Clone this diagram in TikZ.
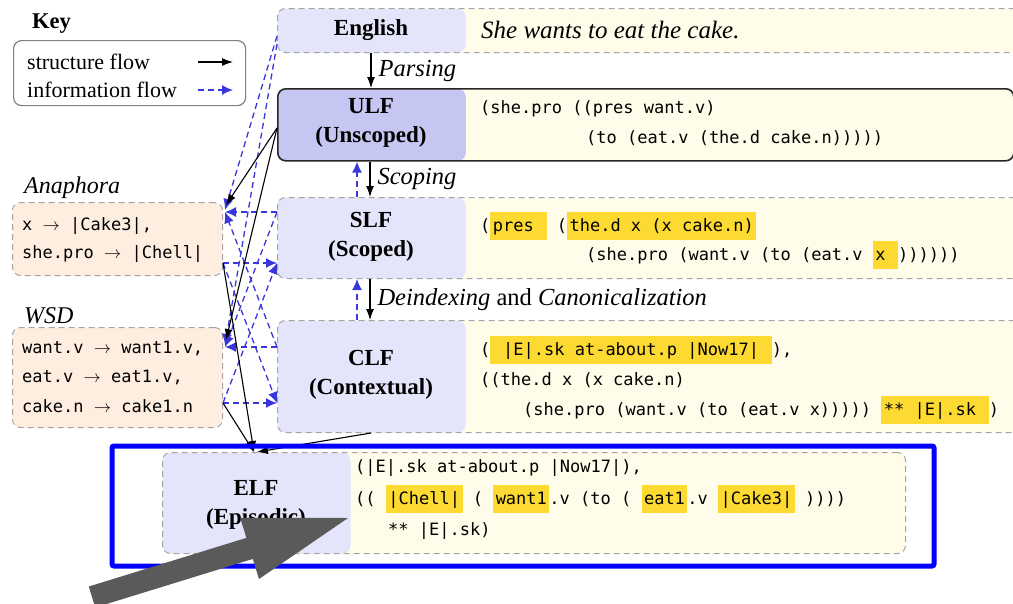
\documentclass[tikz,border=0pt]{standalone}
\usepackage{fontspec}
\setmainfont{Liberation Serif}
\newfontfamily\codefont{DejaVu Sans Mono}
\usetikzlibrary{arrows.meta}
\definecolor{lav}{RGB}{228,228,250}
\definecolor{lavdark}{RGB}{198,198,242}
\definecolor{cream}{RGB}{255,252,234}
\definecolor{peach}{RGB}{253,238,224}
\definecolor{hly}{RGB}{253,218,50}
\definecolor{bordergray}{RGB}{165,165,165}
\definecolor{infoblue}{RGB}{55,55,220}
\definecolor{bigarrowgray}{RGB}{90,90,90}
\newcommand\hlt[1]{{\setlength\fboxsep{0pt}\colorbox{hly}{\rule[-9pt]{0pt}{28pt}\kern2.5pt#1\kern2.5pt}}}
\newcommand\mapsarrow{\ensuremath{\rightarrow}}
\tikzset{
  stagebox/.style={draw=bordergray, dash pattern=on 6pt off 4pt, rounded corners=8pt, fill=cream, line width=1pt, anchor=north west, inner sep=0pt},
  labfill/.style={path picture={\fill[#1] (path picture bounding box.north west) rectangle ([xshift=188pt]path picture bounding box.south west);}},
  sidebox/.style={draw=bordergray, dash pattern=on 6pt off 4pt, rounded corners=8pt, fill=peach, line width=1pt, anchor=north west, inner sep=0pt, minimum width=210pt},
  keybox/.style={draw=black!50, rounded corners=8pt, line width=1.2pt, anchor=north west, inner sep=0pt},
  labtext/.style={font=\fontsize{23}{29}\selectfont\bfseries, align=center, inner sep=0pt},
  serifit/.style={font=\fontsize{24.5}{28}\selectfont\itshape, anchor=west, inner sep=0pt},
  keytext/.style={font=\fontsize{22}{26}\selectfont, anchor=west, inner sep=0pt},
  codetext/.style={font=\codefont\fontsize{17}{30}\selectfont, anchor=base west, inner sep=0pt},
  structarrow/.style={draw=black, line width=1.1pt, -{Latex[length=11pt,width=8pt]}},
  infoarrow/.style={draw=infoblue, line width=1.3pt, dash pattern=on 6pt off 4pt, -{Latex[length=11pt,width=10pt]}},
}
\begin{document}
\begin{tikzpicture}[x=1pt,y=-1pt]
\useasboundingbox (0,0) rectangle (1013,603);

% stage boxes
\node[stagebox, labfill=lav, minimum width=745pt, minimum height=44pt] (eng) at (277,8) {};
\node[stagebox, labfill=lavdark, draw=black!85, solid, line width=1.6pt, minimum width=736pt, minimum height=72pt] (ulf) at (277,88) {};
\node[stagebox, labfill=lav, minimum width=745pt, minimum height=81pt] (slf) at (277,197) {};
\node[stagebox, labfill=lav, minimum width=745pt, minimum height=112pt] (clf) at (277,320) {};
\node[stagebox, labfill=lav, minimum width=743pt, minimum height=101pt] (elf) at (162,452) {};

% side boxes
\node[sidebox, minimum height=73pt] (ana) at (12,202) {};
\node[sidebox, minimum height=100pt] (wsd) at (12,327) {};
\node[keybox, minimum width=232pt, minimum height=65pt] (key) at (13,40) {};

% labels
\node[labtext] (englab) at (371,30) {English};
\node[labtext] (ulflab) at (371,122.5) {ULF\\(Unscoped)};
\node[labtext] (slflab) at (371,237) {SLF\\(Scoped)};
\node[labtext] (clflab) at (371,375) {CLF\\(Contextual)};
\node[labtext] (elflab) at (256,504.5) {ELF\\(Episodic)};

\node[serifit, font=\fontsize{25}{28}\selectfont\itshape] (sent) at (481,30) {She wants to eat the cake.};

% code lines
\node[codetext] (ulf1) at (480,113) {(she.pro ((pres want.v)};
\node[codetext] (ulf2) at (586,143) {(to (eat.v (the.d cake.n)))))};

\node[codetext] (slf1) at (480,231) {(\hlt{pres~}~(\hlt{the.d x (x cake.n)}};
\node[codetext] (slf2) at (586,260) {(she.pro (want.v (to (eat.v \hlt{x~}))))))};

\node[codetext] (clf1) at (480,355) {(\hlt{~|E|.sk at-about.p |Now17|~}),};
\node[codetext] (clf2) at (480,385) {((the.d x (x cake.n)};
\node[codetext] (clf3) at (523,415) {(she.pro (want.v (to (eat.v x))))) \hlt{** |E|.sk~})};

\node[codetext] (elf1) at (355,472) {(|E|.sk at-about.p |Now17|),};
\node[codetext] (elf2) at (355,504) {((~\hlt{|Chell|}~(~\hlt{want1}.v (to (~\hlt{eat1}.v \hlt{|Cake3|}~))))};
\node[codetext] (elf3) at (388,535) {** |E|.sk)};

\node[codetext] (ana1) at (22,230) {x \mapsarrow{} |Cake3|,};
\node[codetext] (ana2) at (22,258) {she.pro \mapsarrow{} |Chell|};
\node[codetext] (wsd1) at (22,353) {want.v \mapsarrow{} want1.v,};
\node[codetext] (wsd2) at (22,382) {eat.v \mapsarrow{} eat1.v,};
\node[codetext] (wsd3) at (22,412) {cake.n \mapsarrow{} cake1.n};

% side titles
\node[serifit, font=\fontsize{24}{26}\selectfont\itshape] (anatitle) at (24,188) {Anaphora};
\node[serifit, font=\fontsize{24}{26}\selectfont\itshape] (wsdtitle) at (24,316) {WSD};

% key
\node[keytext, font=\fontsize{22.5}{26}\selectfont\bfseries] (keytitle) at (32,24) {Key};
\node[keytext] (ksf) at (27,62) {structure flow};
\node[keytext] (kif) at (27,90) {information flow};
\coordinate (ks1) at (198,62); \coordinate (ks2) at (233,62);
\coordinate (ki1) at (198,90); \coordinate (ki2) at (233,90);
\draw[structarrow] (ks1) -- (ks2);
\draw[infoarrow] (ki1) -- (ki2);

% main pipeline arrows
\draw[structarrow] (englab |- eng.south) -- node[serifit, anchor=west, xshift=7pt] (parsing) {Parsing} (englab |- ulf.north);
\draw[structarrow] ([xshift=-1pt]ulflab.center |- ulf.south) -- node[serifit, anchor=west, xshift=7pt] (scoping) {Scoping} ([xshift=-1pt]ulflab.center |- slf.north);
\draw[structarrow] ([xshift=-1pt]slflab.center |- slf.south) -- node[serifit, font=\fontsize{24.5}{28}\selectfont, anchor=west, xshift=7pt] (deindex) {\textit{Deindexing} and \textit{Canonicalization}} ([xshift=-1pt]slflab.center |- clf.north);
\draw[infoarrow] ([xshift=-14pt]slflab.center |- slf.north) -- ([xshift=-14pt]slflab.center |- ulf.south);
\draw[infoarrow] ([xshift=-14pt]clflab.center |- clf.north) -- ([xshift=-14pt]clflab.center |- slf.south);

% information flow (left mesh)
\draw[infoarrow] ([yshift=-28pt]eng.north west) -- ([xshift=2pt,yshift=-8pt]ana.north east);
\draw[infoarrow] ([yshift=-36pt]eng.north west) -- ([xshift=2pt,yshift=-18pt]wsd.north east);
\draw[infoarrow] ([yshift=-15pt]slf.north west) -- ([xshift=2pt,yshift=-10pt]ana.north east);
\draw[infoarrow] ([yshift=-15pt]slf.north west) -- ([xshift=2pt,yshift=-20pt]wsd.north east);
\draw[infoarrow] ([yshift=-27pt]clf.north west) -- ([xshift=2pt,yshift=-20pt]wsd.north east);
\draw[infoarrow] ([yshift=-27pt]clf.north west) -- ([xshift=2pt,yshift=-10pt]ana.north east);
\draw[infoarrow] ([yshift=13pt]ana.south east) -- ([yshift=16pt]slf.south west);
\draw[infoarrow] ([yshift=13pt]ana.south east) -- ([yshift=30pt]clf.south west);
\draw[infoarrow] ([yshift=25pt]wsd.south east) -- ([yshift=30pt]clf.south west);
\draw[infoarrow] ([yshift=25pt]wsd.south east) -- ([yshift=16pt]slf.south west);

% structure flow (left)
\draw[structarrow] ([yshift=-40pt]ulf.north west) -- ([xshift=3pt,yshift=-3pt]ana.north east);
\draw[structarrow] ([yshift=-40pt]ulf.north west) -- ([xshift=3pt,yshift=-13pt]wsd.north east);
\draw[structarrow] ([yshift=13pt]ana.south east) -- ([xshift=-2pt]elflab.center |- elf.north);
\draw[structarrow] ([yshift=25pt]wsd.south east) -- ([xshift=-2pt]elflab.center |- elf.north);
\draw[structarrow] (clflab.center |- clf.south) -- ([xshift=1pt]elflab.center |- elf.north);

% highlight frame
\draw[blue, line width=5pt, rounded corners=2pt] (112,446) rectangle (934,566);

% big gray arrow
\fill[bigarrowgray] (88.8,586.5) -- (246.4,537.9) -- (240.2,517.8) -- (348,518) -- (259,579) -- (252.8,558.9) -- (95.2,607.5) -- cycle;
\end{tikzpicture}
\end{document}
